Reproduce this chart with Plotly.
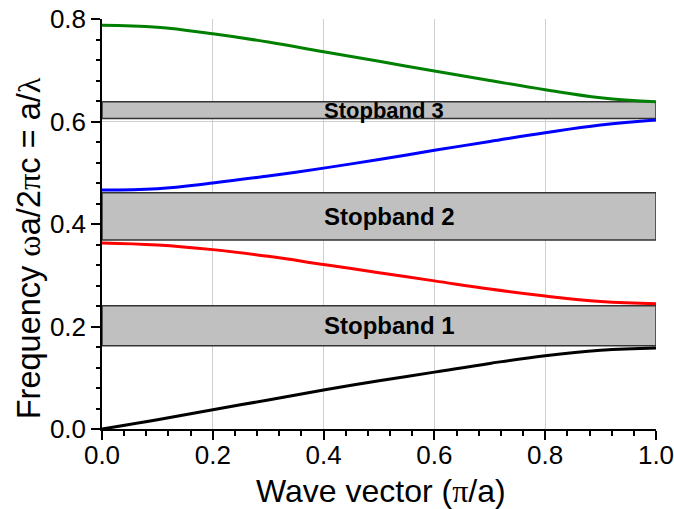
import plotly.graph_objects as go

# Wave vector (pi/a)
k = [0.0, 0.1, 0.2, 0.3, 0.4, 0.5, 0.6, 0.7, 0.8, 0.9, 1.0]

# Photonic bands (omega a / 2 pi c)
band1 = [0.0, 0.018, 0.0377, 0.0566, 0.076, 0.094, 0.111, 0.128, 0.143, 0.1535, 0.158]
band2 = [0.363, 0.359, 0.350, 0.337, 0.321, 0.305, 0.289, 0.273, 0.2595, 0.249, 0.2445]
band3 = [0.4663, 0.469, 0.480, 0.4937, 0.509, 0.526, 0.5437, 0.561, 0.578, 0.593, 0.603]
band4 = [0.788, 0.784, 0.771, 0.755, 0.736, 0.7175, 0.6985, 0.680, 0.662, 0.6465, 0.6387]
band_colors = ["#000000", "#ff0000", "#0000ff", "#008000"]

# Stopbands
stop_lower = [0.1626, 0.369, 0.606]
stop_upper = [0.2406, 0.461, 0.6387]
stop_labels = ["Stopband 1", "Stopband 2", "Stopband 3"]
label_x = 0.397

x_ticks = [0.0, 0.2, 0.4, 0.6, 0.8, 1.0]
y_ticks = [0.0, 0.2, 0.4, 0.6, 0.8]

FONT = "Liberation Sans, Arial, sans-serif"
SERIF = "'Liberation Serif', 'DejaVu Serif', serif"


def greek(ch):
    return "<span style=\"font-family:" + SERIF + "\">" + ch + "</span>"


x_title = "Wave vector (" + greek("π") + "/a)"
y_title = "Frequency " + greek("ω") + "a/2" + greek("π") + "c = a/" + greek("λ")

fig = go.Figure()

for b, c in zip([band1, band2, band3, band4], band_colors):
    fig.add_trace(go.Scatter(x=k, y=b, mode="lines",
                             line=dict(color=c, width=3, shape="spline", smoothing=1.2),
                             showlegend=False, hoverinfo="skip"))

for lo, hi, lab in zip(stop_lower, stop_upper, stop_labels):
    fig.add_shape(type="rect", xref="x", yref="y", x0=k[0], x1=k[-1], y0=lo, y1=hi,
                  fillcolor="#c0c0c0", line=dict(color="#333333", width=1.5), layer="between")
    fig.add_annotation(x=label_x, y=(lo + hi) / 2, xref="x", yref="y", text="<b>" + lab + "</b>",
                       showarrow=False, xanchor="left", yanchor="middle",
                       font=dict(family=FONT, size=24 if hi - lo > 0.05 else 22, color="black"))

# Axis titles as annotations for exact placement
fig.add_annotation(x=0.5045, y=-0.151, xref="paper", yref="paper", text=x_title,
                   showarrow=False, xanchor="center", yanchor="middle",
                   font=dict(family=FONT, size=32, color="black"))
fig.add_annotation(x=-0.1324, y=0.44, xref="paper", yref="paper", text=y_title,
                   showarrow=False, xanchor="center", yanchor="middle", textangle=-90,
                   font=dict(family=FONT, size=32.5, color="black"))

axis_common = dict(showline=True, linecolor="black", linewidth=1.5, zeroline=False,
                   automargin=False, ticklabeloverflow="allow")

fig.update_layout(
    width=674, height=509,
    margin=dict(l=101.5, r=17.5, t=19, b=80),
    paper_bgcolor="white", plot_bgcolor="white",
    font=dict(family=FONT, color="black"),
    xaxis=dict(range=[0, 1], tickvals=x_ticks, ticktext=["%.1f" % v for v in x_ticks],
               ticks="outside", ticklen=9, tickwidth=1.5, tickcolor="black",
               minor=dict(dtick=0.04, ticks="outside", ticklen=5, tickwidth=1.5, tickcolor="black", showgrid=False),
               showgrid=True, gridcolor="#d0d0d0", gridwidth=1,
               tickfont=dict(size=26, family=FONT), ticklabelstandoff=-7,
               **axis_common),
    yaxis=dict(range=[0, 0.8], tickvals=y_ticks, ticktext=["%.1f" % v for v in y_ticks],
               ticks="outside", ticklen=9, tickwidth=1.5, tickcolor="black",
               minor=dict(dtick=0.04, ticks="outside", ticklen=4, tickwidth=1.5, tickcolor="black", showgrid=False),
               showgrid=True, gridcolor="#d0d0d0", gridwidth=1,
               tickfont=dict(size=26, family=FONT),
               **axis_common),
    xaxis2=dict(range=[0, 1], overlaying="x", side="top", anchor="y", showticklabels=False,
                tickvals=x_ticks, ticks="inside", ticklen=8, tickwidth=1.5, tickcolor="black",
                minor=dict(dtick=0.04, ticks="inside", ticklen=4, tickwidth=1.5, tickcolor="black"),
                showgrid=False, **axis_common),
    yaxis2=dict(range=[0, 0.8], overlaying="y", side="right", anchor="x", showticklabels=False,
                tickvals=y_ticks, ticks="outside", ticklen=3, tickwidth=1.5, tickcolor="black",
                minor=dict(dtick=0.04, ticks="outside", ticklen=3, tickwidth=1.5, tickcolor="black"),
                showgrid=False, **axis_common),
)

fig.write_html("out.html")
